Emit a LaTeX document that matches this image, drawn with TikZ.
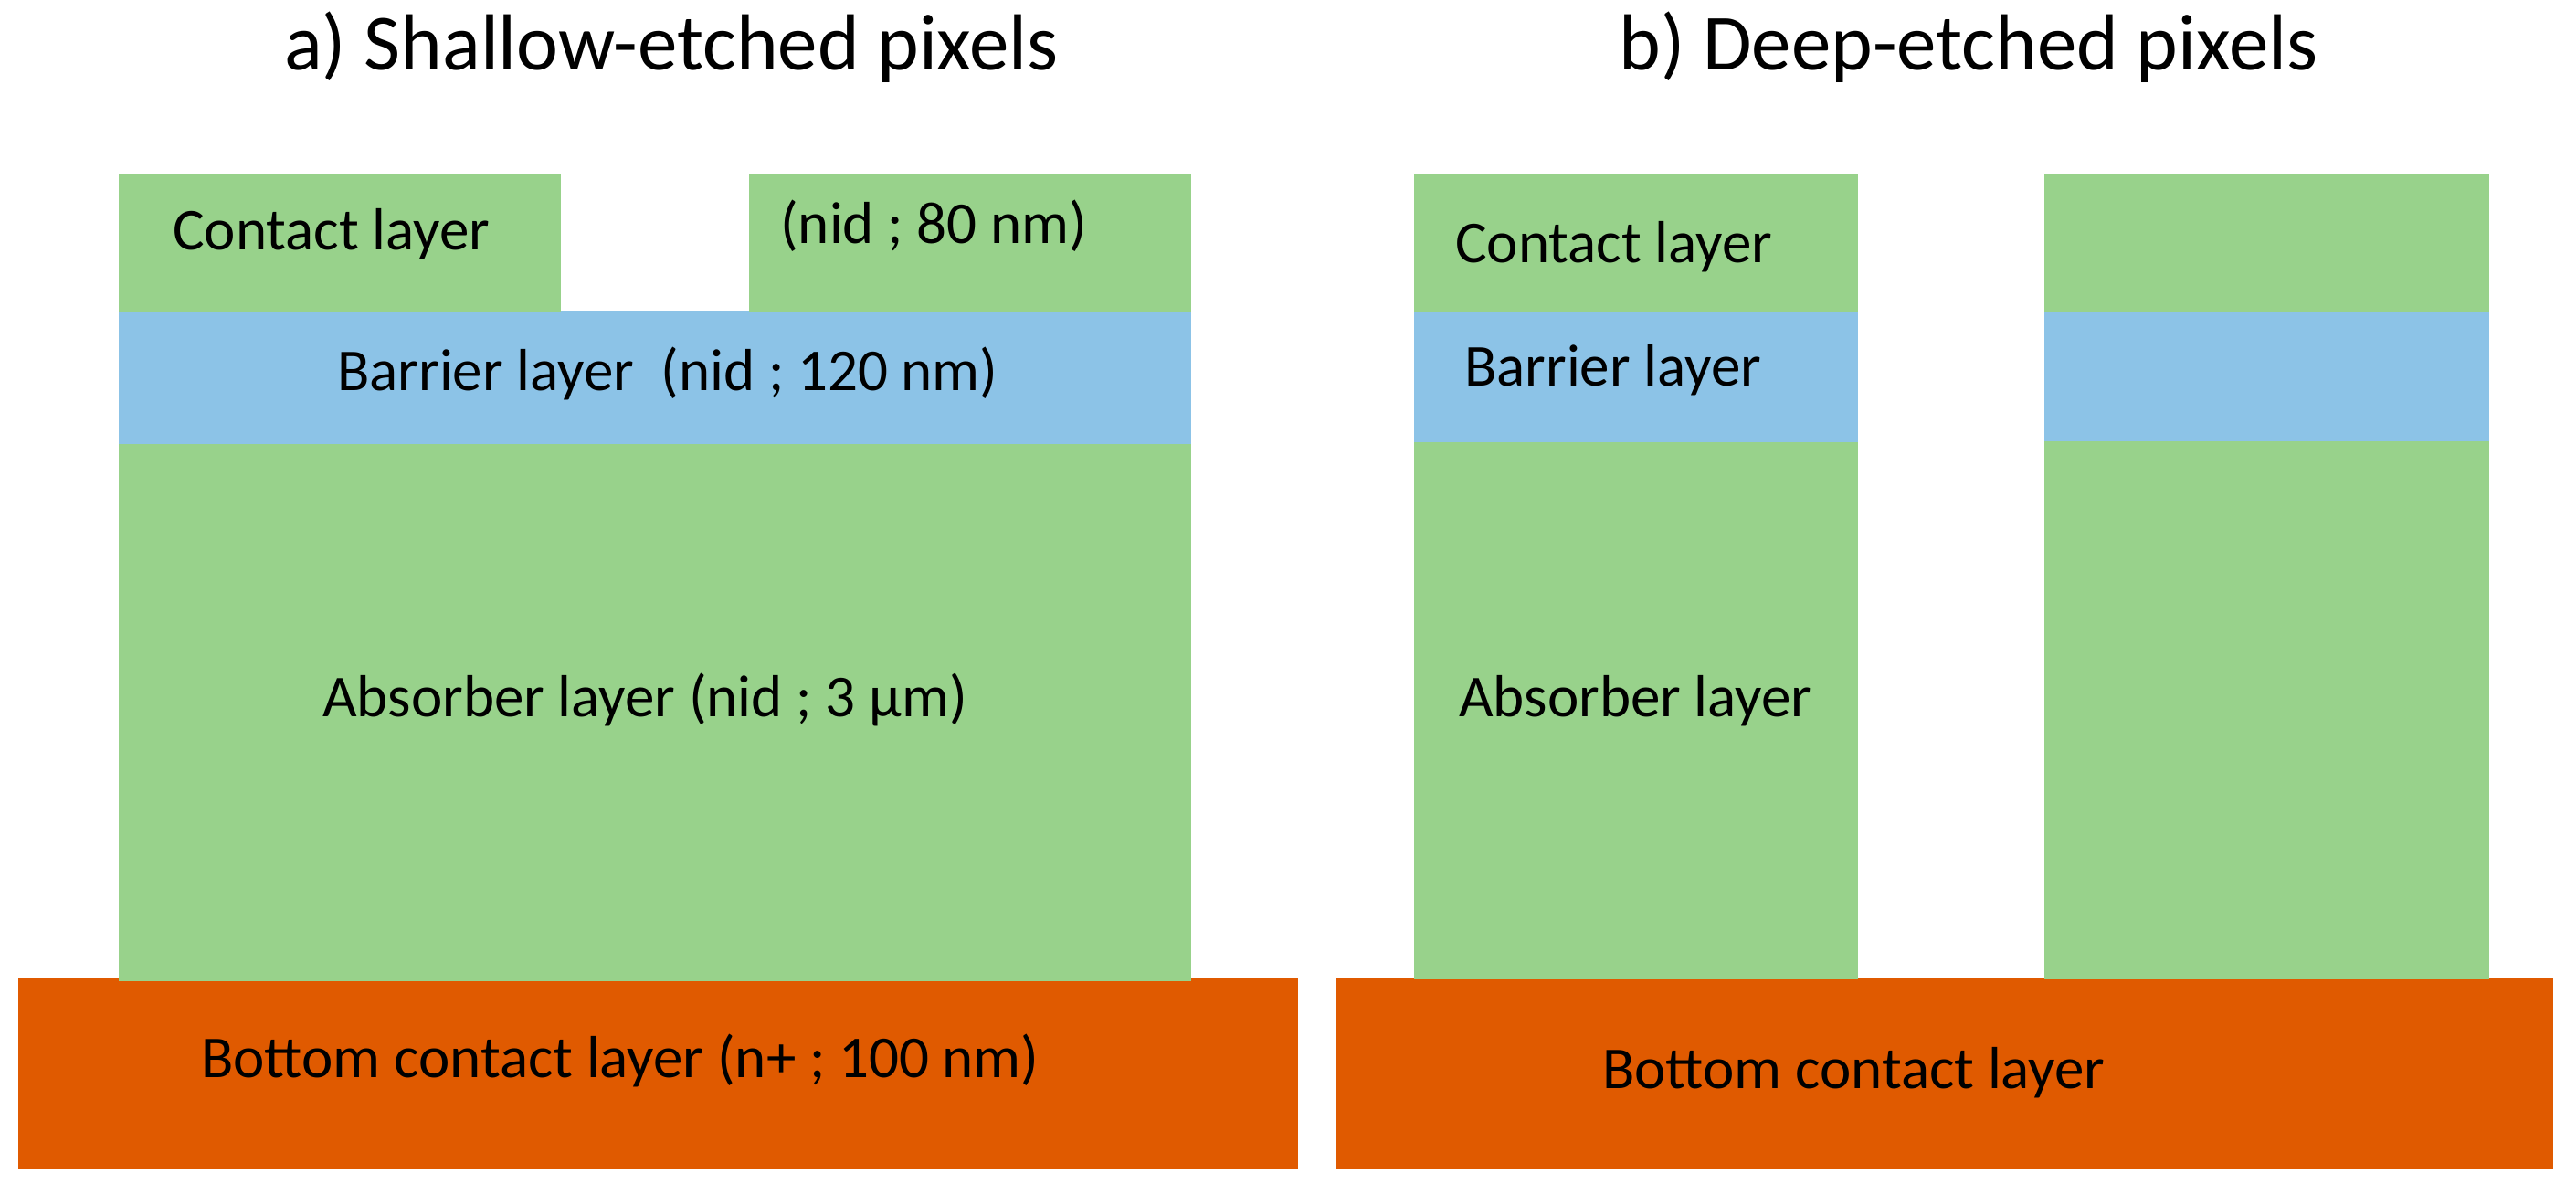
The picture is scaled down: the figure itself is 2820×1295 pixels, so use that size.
\documentclass[tikz,border=0pt]{standalone}
\usepackage{fontspec}
\setmainfont{Carlito}
\definecolor{lgreen}{HTML}{98D28B}
\definecolor{lblue}{HTML}{8CC3E7}
\definecolor{dorange}{HTML}{E05A00}
\begin{document}
\begin{tikzpicture}[x=1pt,y=-1pt,
  lbl/.style={anchor=base west,inner sep=0pt,font=\fontsize{65}{78}\selectfont},
  ttl/.style={anchor=base,inner sep=0pt,font=\fontsize{87}{104}\selectfont}]
\useasboundingbox[fill=white] (0,0) rectangle (2820,1295);
% a) shallow-etched
\fill[dorange] (20,1070) rectangle (1421,1280);
\fill[lgreen] (130,486) rectangle (1304,1074);
\fill[lblue] (130,340) rectangle (1304,486);
\fill[lgreen] (130,191) rectangle (614,341);
\fill[lgreen] (820,191) rectangle (1304,341);
% b) deep-etched
\fill[dorange] (1462,1070) rectangle (2795,1280);
\fill[lgreen] (1548,484) rectangle (2034,1072);
\fill[lblue] (1548,342) rectangle (2034,484);
\fill[lgreen] (1548,191) rectangle (2034,342);
\fill[lgreen] (2238,483) rectangle (2725,1072);
\fill[lblue] (2238,342) rectangle (2725,483);
\fill[lgreen] (2238,191) rectangle (2725,342);
% titles
\node[ttl] (ta) at (735,77) {a) Shallow-etched pixels};
\node[ttl] (tb) at (2155,77) {b) Deep-etched pixels};
% labels a
\node[lbl] (ca) at (189,273) {Contact layer};
\node[lbl] (cn) at (854,266) {(nid ; 80 nm)};
\node[lbl] (ba) at (369,427) {Barrier layer\ \ (nid ; 120 nm)};
\node[lbl] (aa) at (353,784) {Absorber layer (nid ; 3 µm)};
\node[lbl] (bca) at (220,1179) {Bottom contact layer (n+ ; 100 nm)};
% labels b
\node[lbl] (cb) at (1593,287) {Contact layer};
\node[lbl] (bb) at (1603,422) {Barrier layer};
\node[lbl] (ab) at (1597,784) {Absorber layer};
\node[lbl] (bcb) at (1754,1191) {Bottom contact layer};
\end{tikzpicture}
\end{document}
